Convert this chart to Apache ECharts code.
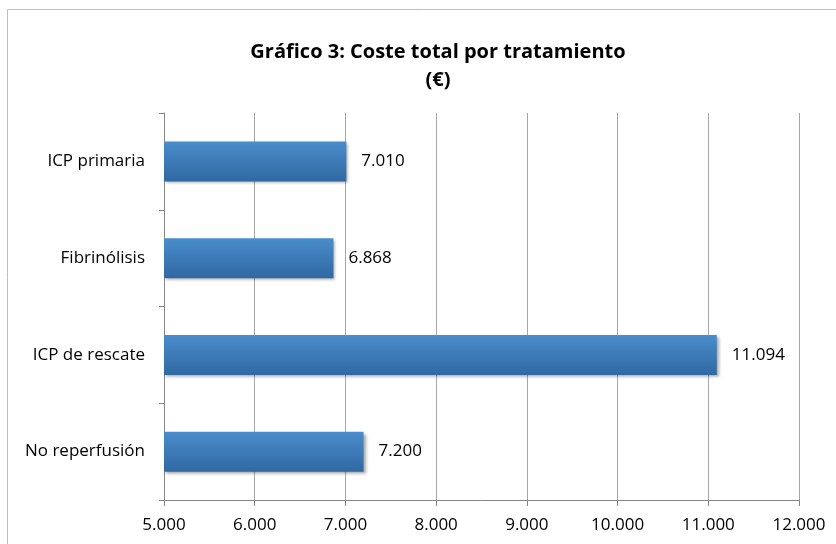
<!DOCTYPE html>
<html><head><meta charset="utf-8">
<script src="https://cdn.jsdelivr.net/npm/echarts@6/dist/echarts.min.js"></script>
<style>html,body{margin:0;padding:0;background:#fff;}#c{width:836px;height:544px;}</style>
</head><body><div id="c"></div>
<script>
var categories = ['ICP primaria', 'Fibrinólisis', 'ICP de rescate', 'No reperfusión'];
var costs = [7010, 6868, 11094, 7200];
var titleText = 'Gráfico 3: Coste total por tratamiento\n(€)';

function fmt(v) {
  var s = String(Math.round(v));
  return s.replace(/\B(?=(\d{3})+(?!\d))/g, '.');
}
var font = '"Open Sans", sans-serif';
var chart = echarts.init(document.getElementById('c'), null, {renderer: 'canvas'});
chart.setOption({
  animation: false,
  backgroundColor: '#fff',
  graphic: [{
    type: 'rect', shape: {x: 7.5, y: 9.5, width: 900, height: 700},
    style: {fill: 'none', stroke: '#bfbfbf', lineWidth: 1}, silent: true
  }],
  title: {
    text: titleText, left: 433, top: 33, textAlign: 'center',
    textStyle: {fontFamily: font, fontWeight: 'bold', fontSize: 20, color: '#000', lineHeight: 28}
  },
  grid: {left: 164, right: 37, top: 113, bottom: 44, containLabel: false},
  xAxis: {
    type: 'value', min: 5000, max: 12000, interval: 1000,
    axisLine: {show: true, lineStyle: {color: '#868686'}},
    axisTick: {show: true, length: 6, lineStyle: {color: '#868686'}},
    axisLabel: {fontFamily: font, fontSize: 17, color: '#000', margin: 17, formatter: fmt},
    splitLine: {show: true, lineStyle: {color: '#a6a6a6'}}
  },
  yAxis: {
    type: 'category', data: categories, inverse: true,
    axisLine: {show: true, lineStyle: {color: '#868686'}},
    axisTick: {show: true, length: 5, lineStyle: {color: '#868686'}},
    axisLabel: {fontFamily: font, fontSize: 17, color: '#000', margin: 19},
    splitLine: {show: false}
  },
  series: [{
    type: 'bar', data: costs, barWidth: 40,
    itemStyle: {
      color: new echarts.graphic.LinearGradient(0, 0, 0, 1, [
        {offset: 0, color: '#4a8dcc'}, {offset: 1, color: '#3068a2'}
      ]),
      shadowBlur: 3, shadowOffsetX: 2, shadowOffsetY: 2, shadowColor: 'rgba(0,0,0,0.35)'
    },
    label: {show: true, position: 'right', distance: 15, fontFamily: font, fontSize: 17, color: '#000', formatter: function (p) { return fmt(p.value); }}
  }]
});
</script></body></html>
